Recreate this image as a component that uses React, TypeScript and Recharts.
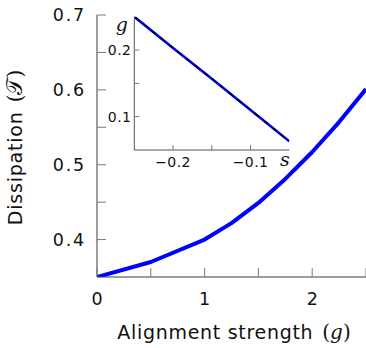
import React from 'react';
import { LineChart, Line, XAxis, YAxis, CartesianGrid } from 'recharts';

// Main panel: dissipation vs alignment strength
const mainG = [0, 0.5, 1, 1.25, 1.5, 1.75, 2, 2.25, 2.5];
const mainDissipation = [0.35, 0.37, 0.4, 0.422, 0.449, 0.481, 0.517, 0.557, 0.601];
const mainXTicks = [0, 0.5, 1, 1.5, 2, 2.5];
const mainYTicks = [0.4, 0.45, 0.5, 0.55, 0.6, 0.65, 0.7];

// Inset: g vs s
const insetS = [-0.25, -0.2, -0.15, -0.1, -0.05];
const insetGBlue = [0.25, 0.203, 0.157, 0.11, 0.063];
const insetGBlack = [0.25, 0.203, 0.157, 0.11, 0.063];
const insetXTicks = [-0.2, -0.15, -0.1];
const insetYTicks = [0.1, 0.15, 0.2];

const mainData = mainG.map((g, i) => ({ g, d: mainDissipation[i] }));
const insetData = insetS.map((s, i) => ({ s, blue: insetGBlue[i], black: insetGBlack[i] }));

const FRAME = '#3a3a3a';
const TICK = '#7a7a7a';
const SANS = '"DejaVu Sans", sans-serif';
const SERIF = '"DejaVu Serif", "Liberation Serif", serif';

const isMultiple = (v: number, step: number) => Math.abs(Math.round(v / step) * step - v) < 1e-6;

const MainLeftTick = (p: any) => {
  const { x, y, payload } = p;
  const v = payload.value;
  return (
    <g>
      <line x1={x} x2={x + 9} y1={y} y2={y} stroke={TICK} strokeWidth={1} />
      {isMultiple(v, 0.1) && (
        <text x={x - 11} y={y} textAnchor="end" dominantBaseline="central" fontFamily={SANS} fontSize={17.5} letterSpacing={1.8} fill="#111">
          {v.toFixed(1)}
        </text>
      )}
    </g>
  );
};
const MainRightTick = (p: any) => {
  const { x, y } = p;
  return <line x1={x - 9} x2={x} y1={y} y2={y} stroke={TICK} strokeWidth={1} />;
};
const MainBottomTick = (p: any) => {
  const { x, y, payload } = p;
  const v = payload.value;
  return (
    <g>
      <line x1={x} x2={x} y1={y - 9} y2={y} stroke={TICK} strokeWidth={1} />
      {isMultiple(v, 1) && (
        <text x={x} y={y + 28} textAnchor="middle" fontFamily={SANS} fontSize={17.5} fill="#111">
          {String(v)}
        </text>
      )}
    </g>
  );
};
const MainTopTick = (p: any) => {
  const { x, y } = p;
  return <line x1={x} x2={x} y1={y} y2={y + 9} stroke={TICK} strokeWidth={1} />;
};

const InsetLeftTick = (p: any) => {
  const { x, y, payload } = p;
  const v = payload.value;
  return (
    <g>
      <line x1={x} x2={x + 5} y1={y} y2={y} stroke={TICK} strokeWidth={1} />
      {isMultiple(v, 0.1) && (
        <text x={x - 3} y={y} textAnchor="end" dominantBaseline="central" fontFamily={SANS} fontSize={14} letterSpacing={0.4} fill="#111">
          {v.toFixed(1)}
        </text>
      )}
    </g>
  );
};
const InsetRightTick = (p: any) => {
  const { x, y } = p;
  return <line x1={x - 5} x2={x} y1={y} y2={y} stroke={TICK} strokeWidth={1} />;
};
const InsetBottomTick = (p: any) => {
  const { x, y, payload } = p;
  const v = payload.value;
  return (
    <g>
      <line x1={x} x2={x} y1={y - 5} y2={y} stroke={TICK} strokeWidth={1} />
      {isMultiple(v, 0.1) && (
        <text x={x} y={y + 16.5} textAnchor="middle" fontFamily={SANS} fontSize={14} letterSpacing={0.4} fill="#111">
          {'\u2212' + Math.abs(v).toFixed(1)}
        </text>
      )}
    </g>
  );
};
const InsetTopTick = (p: any) => {
  const { x, y } = p;
  return <line x1={x} x2={x} y1={y} y2={y + 5} stroke={TICK} strokeWidth={1} />;
};

const XTitle = (p: any) => {
  const vb = p.viewBox || { x: 97, y: 277, width: 269, height: 71 };
  return (
    <text x={vb.x + vb.width / 2 + 2.5} y={vb.y + 62} textAnchor="middle" fill="#111" fontSize={19}>
      <tspan fontFamily={SANS} letterSpacing={0.7}>Alignment strength</tspan>
      <tspan fontFamily={SERIF} fontSize={20} dx={9}>(</tspan>
      <tspan fontFamily={SERIF} fontSize={20} fontStyle="italic">g</tspan>
      <tspan fontFamily={SERIF} fontSize={20}>)</tspan>
    </text>
  );
};

const YTitle = (p: any) => {
  const vb = p.viewBox || { x: 0, y: 15, width: 97, height: 262 };
  const cx = vb.x + 21.7;
  const cy = vb.y + vb.height / 2 + 1.5;
  return (
    <text x={cx} y={cy} transform={`rotate(-90, ${cx}, ${cy})`} textAnchor="middle" fill="#111" fontSize={19}>
      <tspan fontFamily={SANS} letterSpacing={0.8}>Dissipation</tspan>
      <tspan fontFamily={SERIF} fontSize={20} dx={9}>(</tspan>
      <tspan fontFamily={SERIF} fontSize={22}>{'\uD835\uDCAF'}</tspan>
      <tspan fontFamily={SERIF} fontSize={20}>)</tspan>
    </text>
  );
};

const InsetGLabel = (p: any) => {
  const vb = p.viewBox || { x: 0, y: 16.7, width: 134.3, height: 133.3 };
  return (
    <text x={vb.x + vb.width - 12.5} y={vb.y + 14.5} textAnchor="middle" fontFamily={SERIF} fontStyle="italic" fontSize={19} fill="#111">
      g
    </text>
  );
};
const InsetSLabel = (p: any) => {
  const vb = p.viewBox || { x: 134.3, y: 150, width: 155, height: 30 };
  return (
    <text x={vb.x + vb.width - 4.5} y={vb.y + 16} textAnchor="middle" fontFamily={SERIF} fontStyle="italic" fontSize={19} fill="#111">
      s
    </text>
  );
};

export default function App() {
  return (
    <div style={{ position: 'absolute', left: 0, top: 0, width: 366, height: 348, overflow: 'hidden', background: '#fff' }}>
      <div style={{ position: 'absolute', left: 0, top: 0 }}>
        <LineChart width={368} height={348} data={mainData} margin={{ top: 15, right: 2, bottom: 0, left: 0 }}>
          <XAxis
            dataKey="g"
            type="number"
            domain={[0, 2.5]}
            ticks={mainXTicks}
            height={71}
            tickSize={0}
            tickMargin={0}
            tickLine={false}
            axisLine={{ stroke: FRAME, strokeWidth: 1 }}
            tick={<MainBottomTick />}
            interval={0}
            allowDataOverflow
            label={<XTitle />}
          />
          <XAxis
            xAxisId="top"
            orientation="top"
            dataKey="g"
            type="number"
            domain={[0, 2.5]}
            ticks={mainXTicks}
            height={0}
            tickSize={0}
            tickMargin={0}
            tickLine={false}
            axisLine={{ stroke: FRAME, strokeWidth: 1 }}
            tick={<MainTopTick />}
            interval={0}
            allowDataOverflow
          />
          <YAxis
            type="number"
            domain={[0.35, 0.7]}
            ticks={mainYTicks}
            width={97}
            tickSize={0}
            tickMargin={0}
            tickLine={false}
            axisLine={{ stroke: FRAME, strokeWidth: 1 }}
            tick={<MainLeftTick />}
            interval={0}
            allowDataOverflow
            label={<YTitle />}
          />
          <YAxis
            yAxisId="right"
            orientation="right"
            type="number"
            domain={[0.35, 0.7]}
            ticks={mainYTicks}
            width={0}
            tickSize={0}
            tickMargin={0}
            tickLine={false}
            axisLine={{ stroke: FRAME, strokeWidth: 1 }}
            tick={<MainRightTick />}
            interval={0}
            allowDataOverflow
          />
          <Line dataKey="d" stroke="#0000ff" strokeWidth={4} dot={false} isAnimationActive={false} strokeLinejoin="round" />
        </LineChart>
      </div>
      <div style={{ position: 'absolute', left: 0, top: 0 }}>
        <LineChart width={300} height={180} data={insetData} margin={{ top: 16.7, right: 10.7, bottom: 0, left: 0 }}>
          <CartesianGrid fill="#fff" horizontal={false} vertical={false} />
          <XAxis
            dataKey="s"
            type="number"
            domain={[-0.25, -0.05]}
            ticks={insetXTicks}
            height={30}
            tickSize={0}
            tickMargin={0}
            tickLine={false}
            axisLine={{ stroke: '#555', strokeWidth: 1 }}
            tick={<InsetBottomTick />}
            interval={0}
            allowDataOverflow
            label={<InsetSLabel />}
          />
          <XAxis
            xAxisId="top"
            orientation="top"
            dataKey="s"
            type="number"
            domain={[-0.25, -0.05]}
            ticks={insetXTicks}
            height={0}
            tickSize={0}
            tickMargin={0}
            tickLine={false}
            axisLine={{ stroke: '#555', strokeWidth: 1 }}
            tick={<InsetTopTick />}
            interval={0}
            allowDataOverflow
          />
          <YAxis
            type="number"
            domain={[0.05, 0.25]}
            ticks={insetYTicks}
            width={134.3}
            tickSize={0}
            tickMargin={0}
            tickLine={false}
            axisLine={{ stroke: '#555', strokeWidth: 1 }}
            tick={<InsetLeftTick />}
            interval={0}
            allowDataOverflow
            label={<InsetGLabel />}
          />
          <YAxis
            yAxisId="right"
            orientation="right"
            type="number"
            domain={[0.05, 0.25]}
            ticks={insetYTicks}
            width={0}
            tickSize={0}
            tickMargin={0}
            tickLine={false}
            axisLine={{ stroke: '#555', strokeWidth: 1 }}
            tick={<InsetRightTick />}
            interval={0}
            allowDataOverflow
          />
          <Line dataKey="blue" stroke="#0000ff" strokeWidth={2.6} dot={false} isAnimationActive={false} />
          <Line dataKey="black" stroke="#000" strokeWidth={1.5} strokeDasharray="6 5" dot={false} isAnimationActive={false} />
        </LineChart>
      </div>
    </div>
  );
}
